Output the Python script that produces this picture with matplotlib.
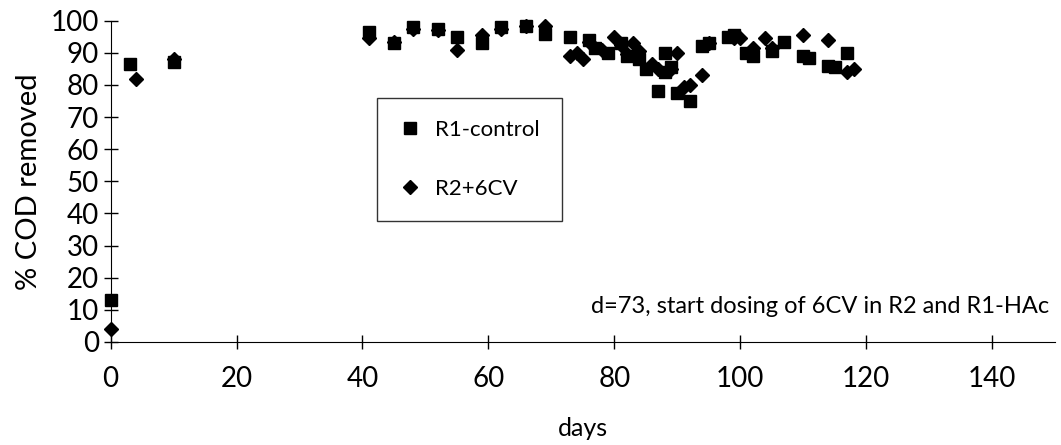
import matplotlib
matplotlib.use("Agg")
import matplotlib.pyplot as plt

# days / % COD removed
r1_days = [0, 3, 10, 41, 45, 48, 52, 55, 59, 62, 66, 69, 73, 76, 77, 79, 81, 82,
           84, 85, 87, 88, 88, 89, 90, 92, 94, 95, 98, 99, 101, 102, 105, 107,
           110, 111, 114, 115, 117]
r1_cod = [13, 86.5, 87, 96.5, 93, 98, 97.5, 95, 93, 98, 98.5, 96, 95, 94, 91.5,
          90, 93, 89, 88, 85, 78, 90, 84, 85.5, 77.5, 75, 92, 93, 95, 95.5, 90,
          89, 90.5, 93.5, 89, 88.5, 86, 85.5, 90]

r2_days = [0, 4, 10, 41, 45, 48, 52, 55, 59, 62, 66, 69, 73, 74, 75, 76, 78, 80,
           81, 82, 83, 84, 86, 87, 89, 90, 91, 92, 94, 95, 99, 100, 102, 104,
           105, 110, 114, 117, 118]
r2_cod = [4, 82, 88, 94.5, 93.5, 97.5, 97, 91, 95.5, 97.5, 98.5, 98.5, 89, 90,
          88, 93.5, 91, 95, 92.5, 89.5, 93, 90.5, 86.5, 85, 85, 90, 79.5, 80,
          83, 93, 94.5, 94.5, 91.5, 94.5, 91.5, 95.5, 94, 84, 85]

x_ticks = [0, 20, 40, 60, 80, 100, 120, 140]
y_ticks = [0, 10, 20, 30, 40, 50, 60, 70, 80, 90, 100]

plt.rcParams['font.family'] = ['Lato', 'DejaVu Sans']

fig = plt.figure(figsize=(10.61, 4.45), dpi=100)
ax = fig.add_axes([0.1043, 0.2315, 0.890, 0.722])

ax.plot(r1_days, r1_cod, ls='none', marker='s', ms=9, color='black',
        label='R1-control', clip_on=False, zorder=3)
ax.plot(r2_days, r2_cod, ls='none', marker='D', ms=7, color='black',
        label='R2+6CV', clip_on=False, zorder=3)

ax.set_xlim(0, 150)
ax.set_ylim(0, 100)
ax.set_xticks(x_ticks)
ax.set_yticks(y_ticks)
ax.spines['top'].set_visible(False)
ax.spines['right'].set_visible(False)
ax.tick_params(direction='inout', length=10, width=1, labelsize=20)
ax.tick_params(axis='x', pad=12)
ax.set_xlabel('days', fontsize=18, labelpad=18)
ax.set_ylabel('% COD removed', fontsize=21, labelpad=6)

ax.text(149, 11, 'd=73, start dosing of 6CV in R2 and R1-HAc',
        ha='right', va='center', fontsize=17)

leg = ax.legend(loc='upper left', bbox_to_anchor=(0.282, 0.76), frameon=True,
                fancybox=False, edgecolor='black', fontsize=16,
                labelspacing=1.75, borderpad=1.0, handletextpad=0.6,
                handlelength=1.0, borderaxespad=0)
leg.get_frame().set_linewidth(1)

fig.savefig('out.png', dpi=100)
